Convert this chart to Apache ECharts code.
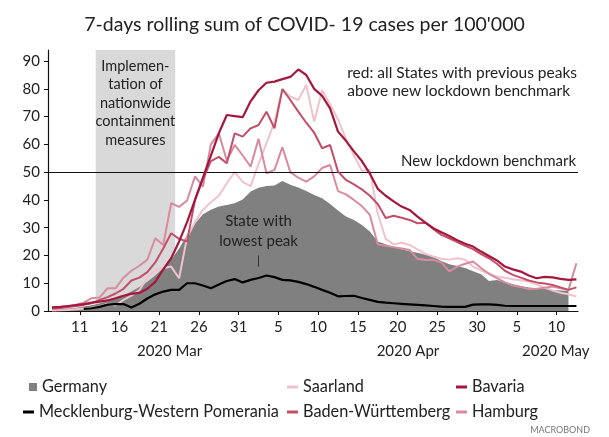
<!DOCTYPE html>
<html><head><meta charset="utf-8">
<script src="https://cdn.jsdelivr.net/npm/echarts@6/dist/echarts.min.js"></script>
<style>html,body{margin:0;padding:0;background:#fff}#c{width:609px;height:437px}</style>
</head><body><div id="c"></div>
<script>
// Day index: Mar d = d, Apr d = 31 + d, May d = 61 + d. Series start Mar 7.
const startDay = 7;

// Germany (Mar 7 .. May 11)
const germany = [
  0.5, 0.7, 0.9, 1.2, 1.6, 2.1, 2.7, 3.5, 4.5, 5.6,
  7.0, 8.6, 10.5, 12.8, 15.5, 18.5, 22.5, 27.5, 31.5, 34.8,
  36.5, 37.6, 38.2, 38.8, 40.2,
  43.0, 44.4, 45.0, 45.2, 46.8, 45.5, 44.5, 43.2, 41.8, 40.6,
  38.5, 36.2, 34.0, 32.8, 31.0, 28.6, 25.0, 24.0, 23.0, 22.2,
  21.5, 21.0, 20.3, 19.5, 18.0, 16.8, 16.2, 15.5, 14.3, 13.2,
  10.8, 11.2, 10.4, 9.6, 9.0, 8.5, 8.2, 7.9, 7.6, 7.4, 7.2
];
// Mecklenburg-Western Pomerania (Mar 7 .. May 12)
const mecklenburg = [
  null, null, null, null, 0.8, 1.0, 1.5, 2.3, 2.5, 2.5,
  1.3, 2.6, 4.5, 6.0, 7.0, 7.6, 7.6, 10.0, 10.0, 9.2,
  8.2, 9.5, 10.8, 11.5, 10.3,
  11.2, 11.9, 12.8, 12.2, 11.2, 11.0, 10.5, 9.7, 8.7, 7.6,
  6.6, 5.3, 5.4, 5.5, 4.7, 4.0, 3.3, 3.0, 2.8, 2.6,
  2.4, 2.2, 2.0, 1.8, 1.6, 1.5, 1.5, 1.5, 2.3, 2.4,
  2.4, 2.2, 1.9, 1.8, 1.8, 1.8, 1.8, 1.8, 1.8, 1.8, 1.8, 1.8
];
// Saarland
const saarland = [
  0.2, 0.3, 0.4, 0.6, 0.9, 1.2, 1.6, 2.6, 2.0, 4.0,
  5.5, 7.5, 12.0, 14.8, 15.4, 16.0, 11.8, 26.5, 32.0, 36.5,
  39.2, 41.5, 46.0, 50.0, 46.5,
  45.0, 53.0, 60.5, 68.0, 80.0, 77.2, 76.0, 81.4, 68.2, 79.5,
  74.5, 69.0, 62.0, 56.0, 50.5, 50.8, 35.0, 26.0, 24.0, 24.6,
  23.8, 22.2, 20.6, 19.6, 18.8, 18.5, 19.0, 18.5, 16.0, 14.6,
  13.5, 12.4, 12.0, 11.4, 11.1, 10.6, 9.5, 8.5, 7.4, 6.6, 6.0, 5.2
];
// Bavaria
const bavaria = [
  1.3, 1.5, 1.8, 2.1, 2.5, 3.0, 3.4, 3.8, 4.6, 5.5,
  6.2, 6.5, 8.0, 10.5, 15.0, 19.0, 25.0, 32.0, 40.0, 48.0,
  56.0, 64.0, 70.6, 70.2, 69.8,
  75.5, 79.5, 82.2, 82.6, 83.5, 84.3, 87.0, 85.0, 80.0, 77.5,
  73.0, 64.6, 61.3, 57.5, 54.0, 49.5, 44.0, 41.5, 39.5, 37.6,
  36.4, 34.0, 31.8, 29.8, 28.4, 27.0, 25.5, 24.2, 23.2, 21.4,
  19.8, 18.2, 16.0, 15.0, 14.2, 12.8, 11.8, 12.3, 12.1, 11.6, 11.2, 11.4
];
// Baden-Württemberg
const badenW = [
  0.9, 1.1, 1.4, 1.8, 2.2, 2.8, 4.0, 5.0, 6.3, 8.0,
  11.0, 12.0, 14.0, 17.5, 22.5, 28.0, 26.0, 25.0, 40.0, 47.5,
  54.0, 55.5, 53.2, 64.0, 62.8,
  65.8, 67.0, 71.8, 65.8, 79.9, 76.0, 71.8, 67.8, 64.2, 58.6,
  59.8, 50.2, 47.2, 45.6, 43.8, 41.5, 38.5, 33.5, 34.3, 33.6,
  32.8, 31.6, 31.8, 29.5, 27.4, 26.2, 24.8, 23.5, 22.3, 20.5,
  19.0, 17.0, 14.5, 13.0, 12.0, 11.0, 10.3, 9.9, 9.4, 8.5, 7.6, 8.5
];
// Hamburg
const hamburg = [
  1.0, 1.3, 1.6, 2.2, 3.0, 4.6, 4.9, 8.2, 8.2, 12.0,
  14.5, 16.3, 18.5, 26.2, 23.8, 38.8, 37.5, 39.8, 48.5, 44.8,
  60.0, 64.0, 54.2, 59.8, 56.0,
  52.0, 62.0, 49.6, 50.8, 59.0, 50.0, 48.0, 46.6, 48.5, 51.5,
  52.6, 43.2, 42.0, 40.0, 37.8, 34.6, 24.0, 23.5, 23.0, 22.5,
  22.0, 18.8, 18.4, 18.4, 17.5, 14.3, 16.0, 17.0, 17.8, 15.5,
  13.4, 11.8, 10.3, 9.2, 8.6, 7.9, 8.0, 8.4, 8.8, 8.2, 7.6, 17.2
];

const xTicks = [11, 16, 21, 26, 31, 36, 41, 46, 51, 56, 61, 66, 71];
const xTickLabels = ['11', '16', '21', '26', '31', '5', '10', '15', '20', '25', '30', '5', '10'];
const monthPos = [22.3, 52.3, 70.9];
const monthLabels = ['2020 Mar', '2020 Apr', '2020 May'];
const yTicks = [0, 10, 20, 30, 40, 50, 60, 70, 80, 90];
const shadeRange = [13, 23];
const benchmark = 50;

const FONT = 'Lato';
const TXT = '#222';

function pairs(arr) { return arr.map((v, i) => [startDay + i + 0.5, v]); }

const chart = echarts.init(document.getElementById('c'), null, {renderer: 'canvas'});
const lineSeries = (name, arr, color, w, z) => ({
  name, type: 'line', data: pairs(arr), showSymbol: false, symbol: 'none',
  lineStyle: {color, width: w}, itemStyle: {color}, z: z, silent: true, animation: false
});

const legendText = {fontFamily: FONT, fontSize: 16.3, color: TXT, lineHeight: 18};

chart.setOption({
  animation: false,
  title: {
    text: "7-days rolling sum of COVID- 19 cases per 100'000",
    left: 'center', top: 10,
    textStyle: {fontFamily: FONT, fontSize: 19.5, fontWeight: 'normal', color: TXT}
  },
  grid: {left: 48, right: 31, top: 50, bottom: 126},
  xAxis: [{
    type: 'value', min: 7, max: 73.7,
    axisLine: {show: true, lineStyle: {color: '#111', width: 1.2}},
    axisTick: {show: true, customValues: xTicks, length: 4, lineStyle: {color: '#111'}},
    axisLabel: {customValues: xTicks, margin: 9, fontFamily: FONT, fontSize: 15, color: TXT,
      formatter: v => xTickLabels[xTicks.indexOf(v)] ?? ''},
    splitLine: {show: false}
  }, {
    type: 'value', min: 7, max: 73.7, position: 'bottom', offset: 24,
    axisLine: {show: false}, axisTick: {show: false}, splitLine: {show: false},
    axisLabel: {customValues: monthPos, margin: 9, fontFamily: FONT, fontSize: 15, color: TXT,
      formatter: v => monthLabels[monthPos.indexOf(v)] ?? ''}
  }],
  yAxis: {
    type: 'value', min: 0, max: 94,
    axisLine: {show: true, lineStyle: {color: '#111', width: 1.2}},
    axisTick: {show: true, customValues: yTicks, length: 4, lineStyle: {color: '#111'}},
    axisLabel: {customValues: yTicks, margin: 8, fontFamily: FONT, fontSize: 15, color: TXT},
    splitLine: {show: false}
  },
  legend: [
    {data: [{name: 'Germany', icon: 'rect'}], left: 24, top: 373, itemWidth: 8, itemHeight: 8,
      selectedMode: false, textStyle: legendText},
    {data: [{name: 'Mecklenburg-Western Pomerania', icon: 'rect'}], left: 18, top: 398, itemWidth: 11, itemHeight: 3,
      selectedMode: false, textStyle: legendText},
    {data: ['Saarland', 'Baden-Württemberg'], orient: 'vertical', left: 282, top: 373, itemGap: 7,
      icon: 'rect', itemWidth: 11, itemHeight: 3, selectedMode: false, textStyle: legendText},
    {data: ['Bavaria', 'Hamburg'], orient: 'vertical', left: 451, top: 373, itemGap: 7,
      icon: 'rect', itemWidth: 11, itemHeight: 3, selectedMode: false, textStyle: legendText}
  ],
  graphic: [
    {type: 'text', right: 32, top: 64, silent: true,
      style: {text: 'red: all States with previous peaks\nabove new lockdown benchmark', align: 'right',
        fill: TXT, font: '15.5px ' + FONT, lineHeight: 18}},
    {type: 'text', right: 19, top: 426, silent: true,
      style: {text: 'MACROBOND', fill: '#777', font: '9px ' + FONT}}
  ],
  series: [
    {name: 'shade', type: 'line', data: [], z: 1, silent: true,
      markArea: {silent: true, itemStyle: {color: '#d9d9d9'},
        label: {show: true, position: 'insideTop', distance: 7, fontFamily: FONT, fontSize: 14.5, lineHeight: 18.5, color: TXT, align: 'center',
          formatter: 'Implemen-\ntation of\nnationwide\ncontainment\nmeasures'},
        data: [[{xAxis: shadeRange[0]}, {xAxis: shadeRange[1]}]]},
      markLine: {silent: true, symbol: 'none', lineStyle: {color: '#111', width: 1.2, type: 'solid'},
        label: {show: true, position: 'insideEndTop', distance: [2, 4], fontFamily: FONT, fontSize: 15, color: TXT,
          formatter: 'New lockdown benchmark'},
        data: [{yAxis: benchmark}]}
    },
    {name: 'Germany', type: 'line', data: pairs(germany), showSymbol: false, symbol: 'none',
      lineStyle: {width: 0}, areaStyle: {color: '#808080', opacity: 1}, itemStyle: {color: '#808080'}, z: 2, silent: true},
    lineSeries('Saarland', saarland, '#efc3cd', 2, 3),
    lineSeries('Hamburg', hamburg, '#d88b9e', 2, 4),
    lineSeries('Baden-Württemberg', badenW, '#c24e68', 2, 5),
    lineSeries('Bavaria', bavaria, '#a3183c', 2.2, 6),
    Object.assign(lineSeries('Mecklenburg-Western Pomerania', mecklenburg, '#000000', 2.2, 7), {
      markLine: {silent: true, symbol: 'none', lineStyle: {color: '#333', width: 1, type: 'solid'},
        label: {show: true, position: 'end', distance: 4, fontFamily: FONT, fontSize: 15, lineHeight: 20, color: TXT,
          formatter: 'State with\nlowest peak'},
        data: [[{coord: [33.5, 16]}, {coord: [33.5, 20]}]]}
    })
  ]
});
</script></body></html>
